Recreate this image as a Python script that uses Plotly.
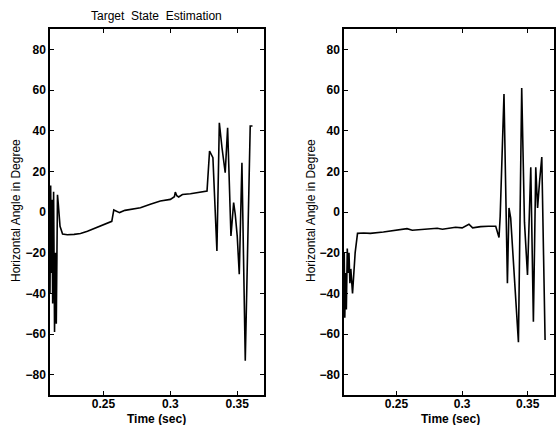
import plotly.graph_objects as go

# Left panel (estimation 1)
t_left = [0.2100, 0.2105, 0.2110, 0.2115, 0.2120, 0.2127, 0.2134, 0.2140, 0.2147, 0.2156,
          0.2162, 0.2175, 0.2194, 0.2230, 0.2280, 0.2328, 0.2380, 0.2420, 0.2453, 0.2500,
          0.2552, 0.2562, 0.2577, 0.2600, 0.2620, 0.2660, 0.2700, 0.2776, 0.2850, 0.2925,
          0.3000, 0.3030, 0.3037, 0.3048, 0.3062, 0.3090, 0.3150, 0.3200, 0.3261, 0.3274,
          0.3293, 0.3305, 0.3318, 0.3348, 0.3366, 0.3386, 0.3410, 0.3428, 0.3453, 0.3473,
          0.3485, 0.3500, 0.3515, 0.3535, 0.3560, 0.3597, 0.3614]
v_left = [-40, 13, -30, 6, -45, 10, -59, -20, -55, 8.5,
          4, -7, -10.8, -11.2, -11.0, -10.6, -9.5, -8.5, -7.7, -6.2,
          -5.0, -4.6, 1.0, 0.5, -0.3, 0.8, 1.2, 2.1, 3.8, 5.4,
          6.2, 7.5, 9.8, 8.0, 7.4, 8.6, 9.0, 9.6, 10.3, 10.3,
          30, 28, 26.7, -19.2, 43.9, 31.6, 19.3, 41.4, -11.8, 4.6,
          -1.1, -12, -30.6, 24.2, -73.2, 42.3, 42.3]

# Right panel (estimation 2)
t_right = [0.2102, 0.2106, 0.2112, 0.2118, 0.2125, 0.2132, 0.2138, 0.2145, 0.2152, 0.2165,
           0.2185, 0.2203, 0.2250, 0.2300, 0.2400, 0.2500, 0.2580, 0.2620, 0.2700, 0.2810,
           0.2850, 0.2950, 0.3000, 0.3052, 0.3080, 0.3141, 0.3200, 0.3256, 0.3281, 0.3290,
           0.3319, 0.3345, 0.3357, 0.3370, 0.3429, 0.3454, 0.3475, 0.3498, 0.3523, 0.3543,
           0.3561, 0.3575, 0.3590, 0.3607, 0.3632]
v_right = [-20, -52, -30, -48, -18, -30, -20, -35, -28, -40,
           -20, -10.5, -10.3, -10.5, -9.8, -9.0, -8.2, -9.0, -8.5, -8.0,
           -8.5, -7.5, -7.8, -6.0, -7.8, -7.2, -7.0, -7.0, -12.5, -2,
           58, -35, 2, -3, -64, 61, -5, -31, 22, -54,
           22, 2, 15, 27, -63]

x_ticks = [0.25, 0.3, 0.35]
x_tick_text = ["0.25", "0.3", "0.35"]
y_ticks = [-80, -60, -40, -20, 0, 20, 40, 60, 80]

title_text = "Target  State  Estimation"
y_title = "Horizontal Angle in Degree"
x_title = "Time (sec)"

fig = go.Figure()
fig.add_trace(go.Scatter(x=t_left, y=v_left, mode="lines",
                         line=dict(color="black", width=1.6), xaxis="x", yaxis="y"))
fig.add_trace(go.Scatter(x=t_right, y=v_right, mode="lines",
                         line=dict(color="black", width=1.6), xaxis="x2", yaxis="y2"))

tickfont = dict(family="Arial", size=12, color="black", weight="bold")
xcommon = dict(range=[0.21, 0.37], tickvals=x_ticks, ticktext=x_tick_text,
               ticks="inside", ticklen=4, tickcolor="black", showline=True,
               linecolor="black", linewidth=1.5, mirror="ticks", showgrid=False,
               zeroline=False, tickfont=tickfont, ticklabelstandoff=-3)
ycommon = dict(range=[-90, 90], tickvals=y_ticks, ticks="inside", ticklen=4,
               tickcolor="black", showline=True, linecolor="black", linewidth=1.5,
               mirror="ticks", showgrid=False, zeroline=False, tickfont=tickfont)

L, R, T, B = 50, 4, 29, 30
fig.update_layout(
    width=558, height=425,
    margin=dict(l=L, r=R, t=T, b=B, autoexpand=False),
    paper_bgcolor="white", plot_bgcolor="white",
    showlegend=False,
    xaxis=dict(domain=[0, 214 / 504], anchor="y", **xcommon),
    yaxis=dict(domain=[0, 1], anchor="x", **ycommon),
    xaxis2=dict(domain=[294 / 504, 1], anchor="y2", **xcommon),
    yaxis2=dict(domain=[0, 1], anchor="x2", **ycommon),
)

# convert pixel positions to paper coords
W = 558 - L - R
H = 425 - T - B
def px(x):
    return (x - L) / W
def py(y):
    return (425 - B - y) / H

def label(text, x, y, size, bold=False, angle=0):
    f = dict(family="Arial", size=size, color="black")
    if bold:
        f["weight"] = "bold"
    return dict(text=text, x=px(x), y=py(y), xref="paper", yref="paper",
                xanchor="center", yanchor="middle", textangle=angle,
                showarrow=False, font=f)

ann = [
    label(title_text, 156, 16, 12),
    label(x_title, 156, 419, 12, bold=True),
    label(x_title, 450, 419, 12, bold=True),
    label(y_title, 16, 211, 12, angle=-90),
    label(y_title, 311, 211, 12, angle=-90),
]
fig.update_layout(annotations=ann)

fig.write_html("out.html", config={"displayModeBar": False},
               post_script="document.body.style.margin='0';")
